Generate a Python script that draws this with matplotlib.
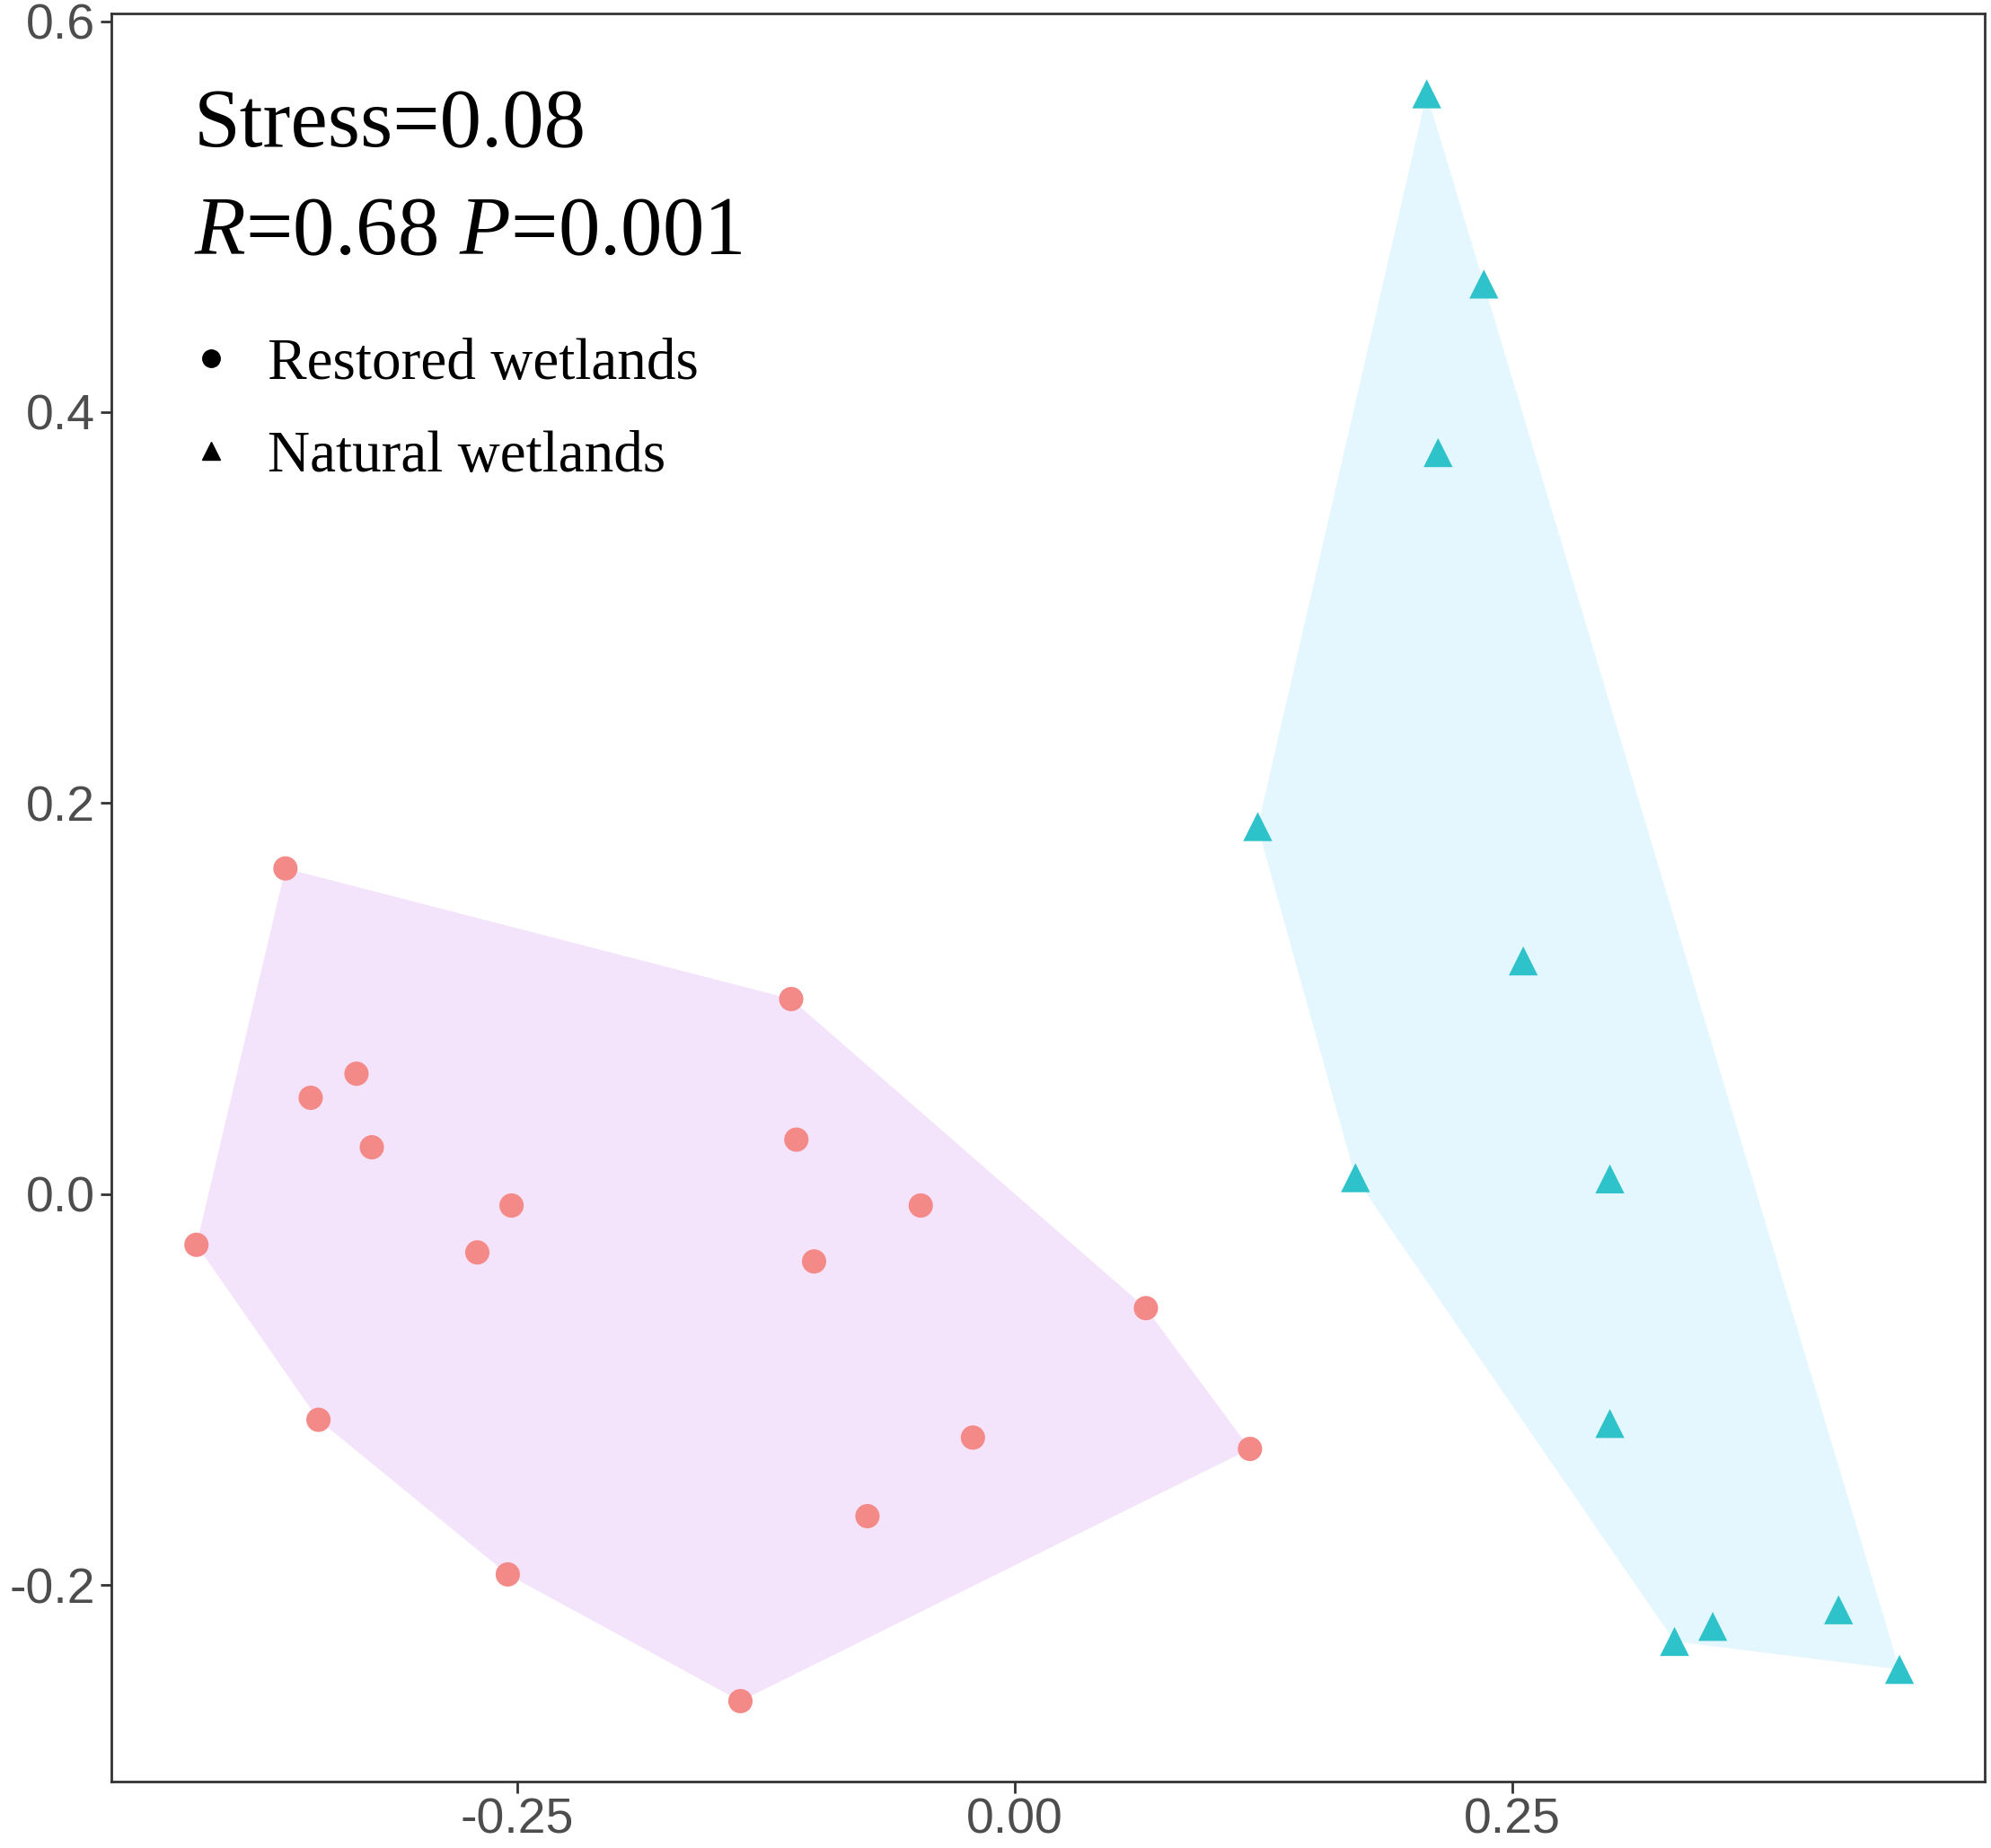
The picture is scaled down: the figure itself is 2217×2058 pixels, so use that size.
from matplotlib import pyplot as plt
from matplotlib.lines import Line2D
from matplotlib.patches import Polygon
import numpy

# NMDS site scores
restored_x = [-0.3665, -0.1124, -0.3308, -0.3538, -0.3231, -0.1098, -0.2529,
              -0.0473, -0.4112, -0.2701, -0.1009, 0.0658, -0.3499, -0.0211,
              0.1181, -0.0741, -0.2548, -0.1379]
restored_y = [0.1666, 0.0998, 0.0616, 0.0493, 0.0240, 0.0279, -0.0058,
              -0.0058, -0.0259, -0.0298, -0.0344, -0.0583, -0.1154, -0.1245,
              -0.1303, -0.1647, -0.1945, -0.2593]

natural_x = [0.2069, 0.2356, 0.2126, 0.1220, 0.2554, 0.1711, 0.2989,
             0.2989, 0.4138, 0.3506, 0.3314, 0.4444]
natural_y = [0.5628, 0.4655, 0.3793, 0.1880, 0.1193, 0.0084, 0.0078,
             -0.1173, -0.2126, -0.2211, -0.2288, -0.2431]

group_labels = ["Restored wetlands", "Natural wetlands"]
stress_text = "Stress=0.08"
stats_text = r"$\mathit{R}$=0.68 $\mathit{P}$=0.001"

x_ticks = [-0.25, 0.0, 0.25]
x_ticklabels = ["-0.25", "0.00", "0.25"]
y_ticks = [-0.2, 0.0, 0.2, 0.4, 0.6]
y_ticklabels = ["-0.2", "0.0", "0.2", "0.4", "0.6"]


def convexHull(xs, ys):
    pts = sorted(set(zip(xs, ys)))

    def cross(o, a, b):
        return (a[0]-o[0])*(b[1]-o[1]) - (a[1]-o[1])*(b[0]-o[0])

    lower = []
    for p in pts:
        while len(lower) >= 2 and cross(lower[-2], lower[-1], p) <= 0:
            lower.pop()
        lower.append(p)
    upper = []
    for p in reversed(pts):
        while len(upper) >= 2 and cross(upper[-2], upper[-1], p) <= 0:
            upper.pop()
        upper.append(p)
    return numpy.array(lower[:-1] + upper[:-1])


def expand(values, frac=0.05):
    lo, hi = min(values), max(values)
    pad = (hi - lo)*frac
    return lo - pad, hi + pad


def main():

    plt.rcParams['mathtext.fontset'] = 'custom'
    plt.rcParams['mathtext.rm'] = 'Liberation Serif'
    plt.rcParams['mathtext.it'] = 'Liberation Serif:italic'

    fig = plt.figure(figsize=(22.17, 20.58), dpi=100)
    ax = fig.add_axes([0.0559, 0.036, 0.9409, 0.9567])

    hull_r = convexHull(restored_x, restored_y)
    hull_n = convexHull(natural_x, natural_y)
    ax.add_patch(Polygon(hull_r, closed=True, facecolor='#F3E4FC',
                         edgecolor='none', zorder=1))
    ax.add_patch(Polygon(hull_n, closed=True, facecolor='#E4F6FE',
                         edgecolor='none', zorder=1))

    ax.scatter(restored_x, restored_y, s=380, marker='o',
               color='#F38A87', edgecolors='none', zorder=3)
    ax.scatter(natural_x, natural_y, s=540, marker='^',
               color='#2EC3CA', edgecolors='none', zorder=3)

    ax.set_xlim(expand(restored_x + natural_x))
    ax.set_ylim(expand(restored_y + natural_y))

    ax.set_xticks(x_ticks)
    ax.set_xticklabels(x_ticklabels)
    ax.set_yticks(y_ticks)
    ax.set_yticklabels(y_ticklabels)
    ax.tick_params(axis='both', length=9, width=2, color='#333333',
                   labelcolor='#4D4D4D', labelsize=40, pad=4)
    for label in ax.get_xticklabels() + ax.get_yticklabels():
        label.set_family('Liberation Sans')

    for spine in ax.spines.values():
        spine.set_linewidth(2)
        spine.set_color('#333333')

    fig.text(0.0974, 0.9208, stress_text, fontsize=67,
             family='Liberation Serif', va='baseline')
    fig.text(0.0974, 0.8625, stats_text, fontsize=67,
             family='Liberation Serif', va='baseline')

    handles = [Line2D([], [], marker='o', linestyle='none', color='black',
                      markersize=14),
               Line2D([], [], marker='^', linestyle='none', color='black',
                      markersize=15)]
    ax.legend(handles, group_labels, loc='upper left',
              bbox_to_anchor=(0.0907, 0.8172), bbox_transform=fig.transFigure,
              frameon=False, handletextpad=0.45, handlelength=1.04,
              labelspacing=0.66, borderpad=0, borderaxespad=0,
              prop={'family': 'Liberation Serif', 'size': 47})

    plt.savefig('out.png', dpi=100)


if __name__ == '__main__':
    main()
